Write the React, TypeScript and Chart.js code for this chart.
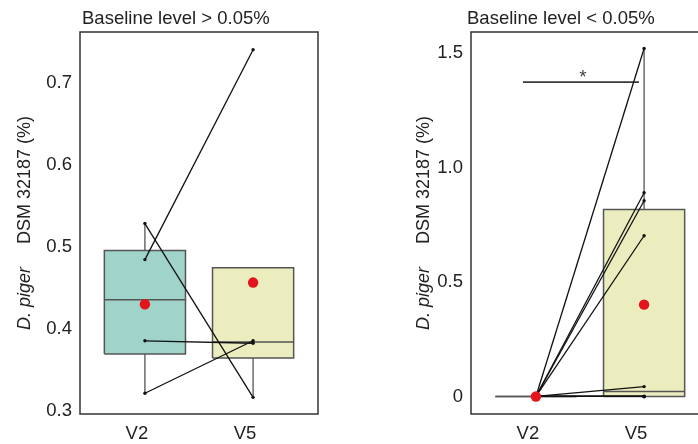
import React, { useEffect, useRef } from "react";
import { Chart, registerables } from "chart.js";

Chart.register(...registerables);

// ---------- data ----------
const categories = ["V2", "V5"];

// Left panel: baseline level > 0.05% (paired subjects V2 -> V5)
const leftTitle = "Baseline level > 0.05%";
const leftV2 = [0.528, 0.484, 0.385, 0.321];
const leftV5 = [0.316, 0.740, 0.382, 0.385];
const leftQ1 = [0.369, 0.364];
const leftMedian = [0.435, 0.3835];
const leftQ3 = [0.495, 0.474];
const leftWhiskerLow = [0.321, 0.316];
const leftWhiskerHigh = [0.528, 0.474];
const leftMean = [0.4295, 0.456];
const leftTicks = [0.3, 0.4, 0.5, 0.6, 0.7];
const leftTickLabels = ["0.3", "0.4", "0.5", "0.6", "0.7"];

// Right panel: baseline level < 0.05%
const rightTitle = "Baseline level < 0.05%";
const rightV2 = [0, 0, 0, 0, 0, 0, 0, 0, 0, 0];
const rightV5 = [1.52, 0.89, 0.855, 0.702, 0.043, 0, 0, 0, 0, 0];
const rightQ1 = [0, 0];
const rightMedian = [0, 0.0215];
const rightQ3 = [0, 0.817];
const rightWhiskerLow = [0, 0];
const rightWhiskerHigh = [0, 1.52];
const rightMean = [0, 0.401];
const rightTicks = [0, 0.5, 1.0, 1.5];
const rightTickLabels = ["0", "0.5", "1.0", "1.5"];
const rightSigX = [0.88, 1.953];
const rightSigY = 1.373;
const rightSigLabel = "*";

const yTitleItalic = "D. piger";
const yTitleRest = "DSM 32187 (%)";

// ---------- styling ----------
const FONT = "'Liberation Sans', Arial, Helvetica, sans-serif";
const TEXT = "#222222";
const BOX_FILLS = ["#a0d4ca", "#ebedbe"];
const BOX_LINE = "#555555";
const HALF = 0.375;

type Panel = {
  title: string;
  v2: number[];
  v5: number[];
  q1: number[];
  med: number[];
  q3: number[];
  wLo: number[];
  wHi: number[];
  mean: number[];
  ticks: number[];
  tickLabels: string[];
  yMin: number;
  yMax: number;
  titleX: number;
  yTitleX: number;
  sig?: { x: number[]; y: number; label: string };
};

function buildDatasets(p: Panel) {
  const ds: any[] = [];
  // mean dots (top)
  ds.push({
    data: categories.map((_, i) => ({ x: i + 1, y: p.mean[i] })),
    showLine: false,
    pointRadius: 5.2,
    pointBackgroundColor: "#e3141b",
    pointBorderWidth: 0,
    order: 0,
  });
  // paired subject lines
  p.v2.forEach((a, i) => {
    ds.push({
      data: [
        { x: 1, y: a },
        { x: 2, y: p.v5[i] },
      ],
      showLine: true,
      borderColor: "#111111",
      borderWidth: 1.3,
      pointRadius: 1.7,
      pointBackgroundColor: "#111111",
      pointBorderWidth: 0,
      order: 1,
    });
  });
  // significance bar
  if (p.sig) {
    ds.push({
      data: [
        { x: p.sig.x[0], y: p.sig.y },
        { x: p.sig.x[1], y: p.sig.y },
      ],
      showLine: true,
      borderColor: "#3a3a3a",
      borderWidth: 1.6,
      pointRadius: 0,
      order: 2,
    });
  }
  categories.forEach((_, i) => {
    const x = i + 1;
    // median
    ds.push({
      data: [
        { x: x - HALF, y: p.med[i] },
        { x: x + HALF, y: p.med[i] },
      ],
      showLine: true,
      borderColor: BOX_LINE,
      borderWidth: 1.5,
      pointRadius: 0,
      order: 3,
    });
    // box
    ds.push({
      data: [
        { x: x - HALF, y: p.q1[i] },
        { x: x + HALF, y: p.q1[i] },
        { x: x + HALF, y: p.q3[i] },
        { x: x - HALF, y: p.q3[i] },
        { x: x - HALF, y: p.q1[i] },
      ],
      showLine: true,
      fill: "shape",
      backgroundColor: BOX_FILLS[i],
      borderColor: BOX_LINE,
      borderWidth: 1.5,
      pointRadius: 0,
      order: 4,
    });
    // whiskers
    ds.push({
      data: [
        { x, y: p.q3[i] },
        { x, y: p.wHi[i] },
      ],
      showLine: true,
      borderColor: BOX_LINE,
      borderWidth: 1.3,
      pointRadius: 0,
      order: 5,
    });
    ds.push({
      data: [
        { x, y: p.q1[i] },
        { x, y: p.wLo[i] },
      ],
      showLine: true,
      borderColor: BOX_LINE,
      borderWidth: 1.3,
      pointRadius: 0,
      order: 5,
    });
  });
  return ds;
}

function makeDecor(p: Panel) {
  return {
    id: "decor",
    afterDraw(chart: any) {
      const { ctx, chartArea } = chart;
      ctx.save();
      // frame
      ctx.strokeStyle = "#333333";
      ctx.lineWidth = 1.5;
      ctx.strokeRect(
        chartArea.left,
        chartArea.top,
        chartArea.right - chartArea.left,
        chartArea.bottom - chartArea.top
      );
      // title
      ctx.fillStyle = TEXT;
      ctx.font = `18.5px ${FONT}`;
      ctx.textAlign = "left";
      ctx.textBaseline = "alphabetic";
      ctx.fillText(p.title, p.titleX, 24);
      // y axis title (rotated, mixed italic)
      ctx.save();
      ctx.translate(p.yTitleX, 330);
      ctx.rotate(-Math.PI / 2);
      ctx.font = `italic 18px ${FONT}`;
      ctx.fillText(yTitleItalic, 0, 0);
      const w = ctx.measureText(yTitleItalic).width;
      ctx.font = `18px ${FONT}`;
      ctx.fillText(yTitleRest, w + 23, 0);
      ctx.restore();
      // significance label
      if (p.sig) {
        const xs = chart.scales.x;
        const ys = chart.scales.y;
        const cx = xs.getPixelForValue((p.sig.x[0] + p.sig.x[1]) / 2);
        const cy = ys.getPixelForValue(p.sig.y);
        ctx.fillStyle = "#444444";
        ctx.font = `19px ${FONT}`;
        ctx.textAlign = "center";
        ctx.textBaseline = "alphabetic";
        ctx.fillText(p.sig.label, cx + 2, cy + 1);
      }
      ctx.restore();
    },
  };
}

function PanelChart({ p, left }: { p: Panel; left: number }) {
  const ref = useRef<HTMLCanvasElement | null>(null);
  useEffect(() => {
    if (!ref.current) return;
    const chart = new Chart(ref.current, {
      type: "scatter",
      data: { datasets: buildDatasets(p) },
      options: {
        animation: false,
        responsive: false,
        maintainAspectRatio: false,
        devicePixelRatio: 1,
        layout: { padding: { top: 32, right: 22, left: 0, bottom: 0 } },
        plugins: {
          legend: { display: false },
          tooltip: { enabled: false },
          title: { display: false },
        },
        scales: {
          x: {
            type: "linear",
            min: 0.4,
            max: 2.6,
            grid: { display: false, drawTicks: false },
            border: { display: false },
            afterBuildTicks: (s: any) => {
              s.ticks = categories.map((_, i) => ({ value: i + 1 }));
            },
            afterFit: (s: any) => {
              s.height = 30;
            },
            ticks: {
              autoSkip: false,
              maxRotation: 0,
              padding: 9,
              labelOffset: -8,
              color: TEXT,
              font: { family: FONT, size: 18.5 },
              callback: (v: any) => categories[Math.round(Number(v)) - 1] ?? "",
            },
          },
          y: {
            type: "linear",
            min: p.yMin,
            max: p.yMax,
            grid: { display: false, drawTicks: false },
            border: { display: false },
            afterBuildTicks: (s: any) => {
              s.ticks = p.ticks.map((v) => ({ value: v }));
            },
            afterFit: (s: any) => {
              s.width = 80;
            },
            ticks: {
              autoSkip: false,
              padding: 8,
              color: TEXT,
              font: { family: FONT, size: 18.5 },
              callback: (v: any) => {
                const idx = p.ticks.findIndex((t) => Math.abs(t - Number(v)) < 1e-9);
                return idx >= 0 ? p.tickLabels[idx] : "";
              },
            },
          },
        },
      },
      plugins: [makeDecor(p)],
    } as any);
    return () => chart.destroy();
  }, []);
  return (
    <canvas
      ref={ref}
      width={340}
      height={444}
      style={{ position: "absolute", left, top: 0, width: 340, height: 444 }}
    />
  );
}

const leftPanel: Panel = {
  title: leftTitle,
  v2: leftV2,
  v5: leftV5,
  q1: leftQ1,
  med: leftMedian,
  q3: leftQ3,
  wLo: leftWhiskerLow,
  wHi: leftWhiskerHigh,
  mean: leftMean,
  ticks: leftTicks,
  tickLabels: leftTickLabels,
  yMin: 0.2957,
  yMax: 0.7616,
  titleX: 82,
  yTitleX: 29.5,
};

const rightPanel: Panel = {
  title: rightTitle,
  v2: rightV2,
  v5: rightV5,
  q1: rightQ1,
  med: rightMedian,
  q3: rightQ3,
  wLo: rightWhiskerLow,
  wHi: rightWhiskerHigh,
  mean: rightMean,
  ticks: rightTicks,
  tickLabels: rightTickLabels,
  yMin: -0.0766,
  yMax: 1.592,
  titleX: 76,
  yTitleX: 37.5,
  sig: { x: rightSigX, y: rightSigY, label: rightSigLabel },
};

export default function App() {
  return (
    <div
      style={{
        position: "fixed",
        left: 0,
        top: 0,
        width: 698,
        height: 444,
        overflow: "hidden",
        background: "#ffffff",
      }}
    >
      <PanelChart p={leftPanel} left={0} />
      <PanelChart p={rightPanel} left={391} />
    </div>
  );
}
